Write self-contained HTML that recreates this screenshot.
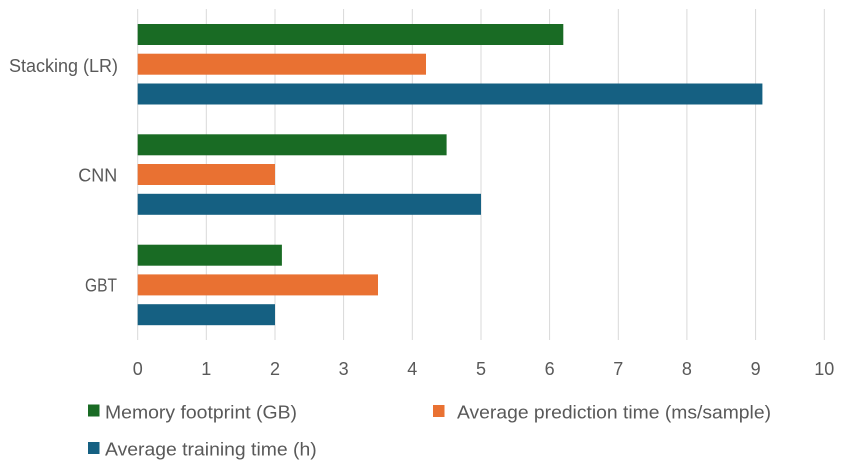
<!DOCTYPE html>
<html><head><meta charset="utf-8"><style>
html,body{margin:0;padding:0;background:#fff;}
svg{display:block;}
text{font-family:"Liberation Sans",sans-serif;fill:#595959;font-size:18px;}
</style></head><body>
<svg width="854" height="465" viewBox="0 0 854 465" xmlns="http://www.w3.org/2000/svg">
<g stroke="#d9d9d9" stroke-width="1">
<line x1="137.7" y1="9" x2="137.7" y2="340"/>
<line x1="206.3" y1="9" x2="206.3" y2="340"/>
<line x1="275" y1="9" x2="275" y2="340"/>
<line x1="343.6" y1="9" x2="343.6" y2="340"/>
<line x1="412.3" y1="9" x2="412.3" y2="340"/>
<line x1="481" y1="9" x2="481" y2="340"/>
<line x1="549.6" y1="9" x2="549.6" y2="340"/>
<line x1="618.3" y1="9" x2="618.3" y2="340"/>
<line x1="686.9" y1="9" x2="686.9" y2="340"/>
<line x1="755.6" y1="9" x2="755.6" y2="340"/>
<line x1="824.3" y1="9" x2="824.3" y2="340"/>
</g>
<!-- Stacking -->
<rect x="137.7" y="24" width="425.6" height="21" fill="#196B24"/>
<rect x="137.7" y="53.7" width="288.3" height="21" fill="#E97132"/>
<rect x="137.7" y="83.5" width="624.7" height="21" fill="#156082"/>
<!-- CNN -->
<rect x="137.7" y="134.3" width="308.9" height="21" fill="#196B24"/>
<rect x="137.7" y="164" width="137.3" height="21" fill="#E97132"/>
<rect x="137.7" y="193.8" width="343.3" height="21" fill="#156082"/>
<!-- GBT -->
<rect x="137.7" y="244.7" width="144.2" height="21" fill="#196B24"/>
<rect x="137.7" y="274.4" width="240.3" height="21" fill="#E97132"/>
<rect x="137.7" y="304.2" width="137.3" height="21" fill="#156082"/>
<!-- category labels -->
<text x="9" y="72" textLength="109" lengthAdjust="spacingAndGlyphs">Stacking (LR)</text>
<text x="78.3" y="181.7" textLength="39" lengthAdjust="spacingAndGlyphs">CNN</text>
<text x="85" y="291.7" textLength="32" lengthAdjust="spacingAndGlyphs">GBT</text>
<!-- ticks -->
<g text-anchor="middle">
<text x="137.7" y="375">0</text>
<text x="206.3" y="375">1</text>
<text x="275" y="375">2</text>
<text x="343.6" y="375">3</text>
<text x="412.3" y="375">4</text>
<text x="481" y="375">5</text>
<text x="549.6" y="375">6</text>
<text x="618.3" y="375">7</text>
<text x="686.9" y="375">8</text>
<text x="755.6" y="375">9</text>
<text x="824.3" y="375">10</text>
</g>
<!-- legend -->
<rect x="88" y="404.5" width="11.5" height="12" fill="#196B24"/>
<text x="105" y="418.3" textLength="192" lengthAdjust="spacingAndGlyphs">Memory footprint (GB)</text>
<rect x="433" y="405" width="11.5" height="12" fill="#E97132"/>
<text x="457" y="418.3" textLength="314" lengthAdjust="spacingAndGlyphs">Average prediction time (ms/sample)</text>
<rect x="88" y="442" width="11.5" height="12" fill="#156082"/>
<text x="105" y="455.3" textLength="211.7" lengthAdjust="spacingAndGlyphs">Average training time (h)</text>
</svg>
</body></html>
